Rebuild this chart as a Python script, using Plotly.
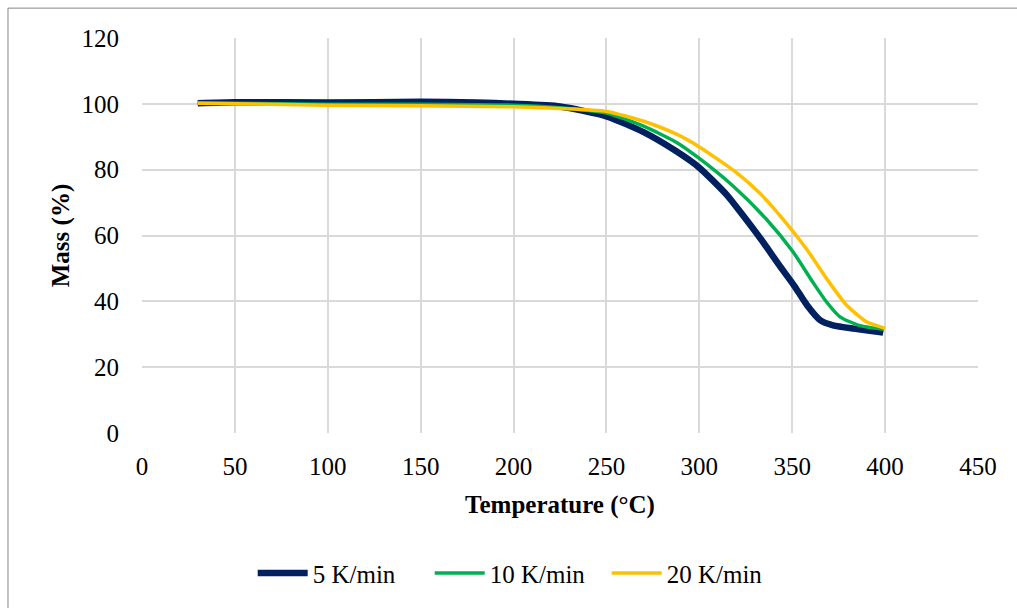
import plotly.graph_objects as go

# 5 K/min
t5 = [30, 50, 100, 150, 180, 200, 225, 250, 270, 287, 300, 315, 322, 333, 343, 351, 358, 365, 372, 383, 397, 399]
m5 = [100.2, 100.5, 100.4, 100.6, 100.4, 100.0, 99.2, 96.2, 91.4, 85.8, 80.6, 72.2, 67.2, 59.0, 51.0, 44.8, 38.8, 34.3, 32.7, 31.7, 30.7, 30.5]
# 10 K/min
t10 = [30, 100, 150, 200, 225, 250, 270, 288, 300, 318, 336, 350.6, 361, 368.5, 375.7, 386, 399]
m10 = [100.3, 99.9, 99.9, 99.6, 98.8, 97.2, 93.2, 88.2, 83.4, 75.1, 65.0, 54.9, 45.9, 39.8, 35.3, 32.7, 31.5]
# 20 K/min
t20 = [30, 100, 150, 200, 225, 250, 270, 288, 300, 320, 333, 345, 357.7, 368.5, 379.3, 390, 400]
m20 = [100.2, 99.6, 99.4, 99.1, 98.6, 97.7, 94.7, 90.7, 86.9, 79.1, 72.6, 65.0, 55.9, 46.9, 38.8, 33.8, 31.8]

names = ["5 K/min", "10 K/min", "20 K/min"]
colors = ["#002060", "#00B050", "#FFC000"]
widths = [6.5, 3.5, 3.5]

x_ticks = [0, 50, 100, 150, 200, 250, 300, 350, 400, 450]
y_ticks = [0, 20, 40, 60, 80, 100, 120]

font = "Liberation Serif"

fig = go.Figure()
for t, m, n, c, w in zip([t5, t10, t20], [m5, m10, m20], names, colors, widths):
    fig.add_trace(go.Scatter(x=t, y=m, name=n, mode="lines",
                             line=dict(color=c, width=w, shape="spline", smoothing=0.6)))

fig.update_layout(
    width=1017, height=608,
    margin=dict(l=142, r=39, t=38, b=173),
    paper_bgcolor="white", plot_bgcolor="white",
    font=dict(family=font, size=25, color="black"),
    showlegend=True,
    legend=dict(orientation="h", x=0.45, y=-0.355, xanchor="center", yanchor="middle",
                font=dict(family=font, size=25, color="black"), itemwidth=50,
                entrywidth=112, traceorder="normal"),
    xaxis=dict(range=[0, 450], tickvals=x_ticks, showgrid=True, gridcolor="#D9D9D9", gridwidth=1.5,
               zeroline=False, showline=False, ticks="", ticklabelstandoff=16,
               tickfont=dict(family=font, size=25),
               title=dict(text="<b>Temperature (°C)</b>", font=dict(family=font, size=25), standoff=16)),
    yaxis=dict(range=[0, 120], tickvals=y_ticks, showgrid=True, gridcolor="#D9D9D9", gridwidth=1.5,
               zeroline=False, showline=False, ticks="", ticklabelstandoff=22,
               tickfont=dict(family=font, size=25),
               title=dict(text="<b>Mass (%)</b>", font=dict(family=font, size=25), standoff=4)),
    shapes=[dict(type="rect", xref="paper", yref="paper",
                 x0=-0.1603, x1=1.06, y0=-0.46, y1=1.0756,
                 line=dict(color="#868686", width=1), fillcolor="rgba(0,0,0,0)", layer="below")],
)

fig.write_html("out.html")
